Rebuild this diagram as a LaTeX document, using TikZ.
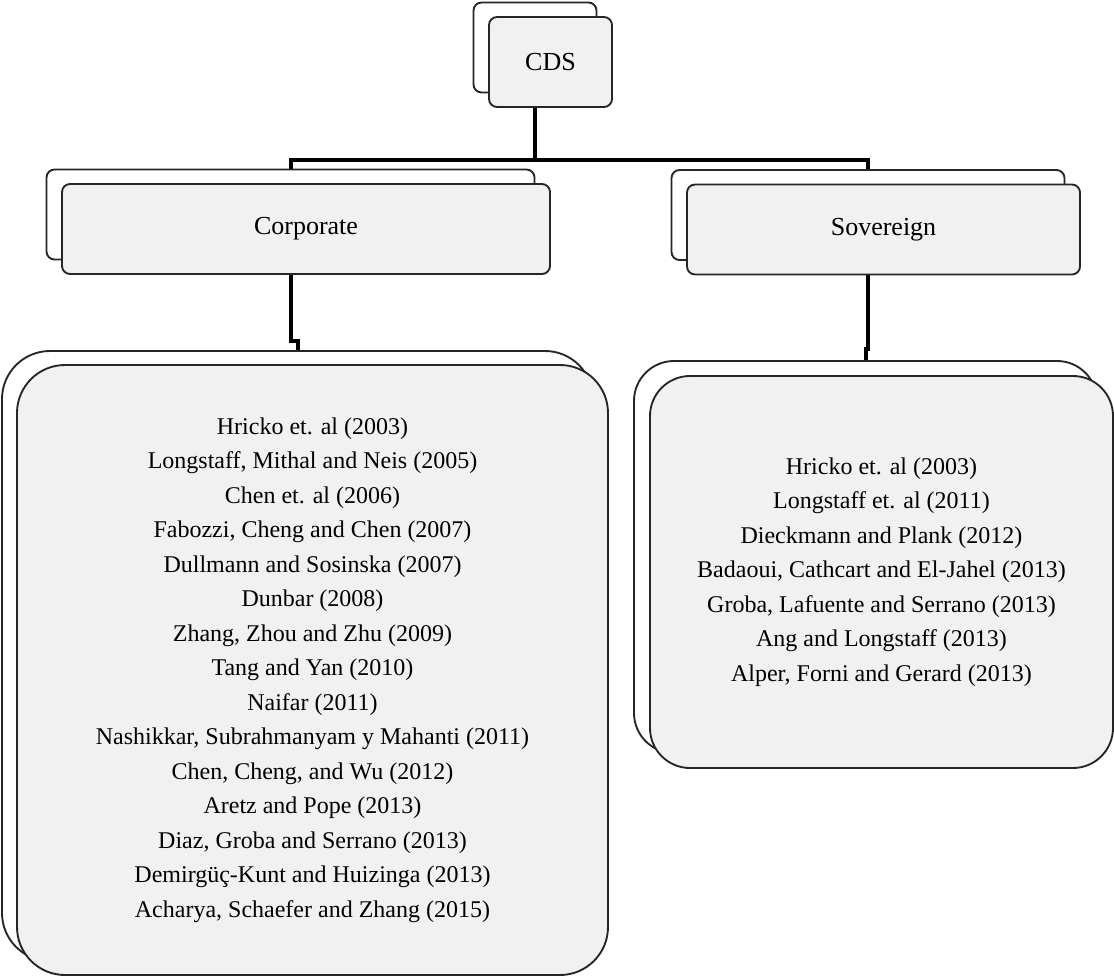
\documentclass[tikz,border=0pt]{standalone}
\usepackage{fontspec}
\setmainfont{Liberation Serif}
\usetikzlibrary{backgrounds}

\tikzset{every picture/.style={line width=0.75pt}}
\definecolor{boxfill}{RGB}{241,241,241}
\definecolor{boxline}{RGB}{38,38,38}
\tikzset{
  backbox/.style={draw=boxline, line width=1.4pt, fill=white, inner sep=0pt, rounded corners=6pt},
  frontbox/.style={draw=boxline, line width=1.4pt, fill=boxfill, inner sep=0pt, rounded corners=6pt,
    align=center, font=\fontsize{19.5pt}{23pt}\selectfont},
  listbox/.style={frontbox, font=\fontsize{18pt}{25.9pt}\selectfont},
  conn/.style={line width=3pt, black},
}

\begin{document}
\begin{tikzpicture}[x=0.75pt,y=0.75pt,yscale=-1,xscale=1]
\useasboundingbox (0,0) rectangle (1114,978);

%Top: CDS
\node [backbox, minimum width=92.25pt, minimum height=67.5pt] (cdsback) at (535,47.5) {};
\node [frontbox, minimum width=92.25pt, minimum height=67.5pt] (cds) at (550.5,62) {CDS};

%Second level
\node [backbox, minimum width=366pt, minimum height=67.5pt] (corpback) at (290.5,214.5) {};
\node [frontbox, minimum width=366pt, minimum height=67.5pt] (corp) at (306,229) {Corporate};
\node [backbox, minimum width=294.75pt, minimum height=67.5pt] (sovback) at (868,215) {};
\node [frontbox, minimum width=294.75pt, minimum height=67.5pt] (sov) at (883.5,229.5) {Sovereign};

%Lists
\node [backbox, rounded corners=36pt, minimum width=443.25pt, minimum height=457.5pt] (corplistback) at (297.5,656) {};
\node [listbox, rounded corners=36pt, minimum width=443.25pt, minimum height=457.5pt] (corplist) at (312.5,670) {%
Hricko et. al (2003)\\
Longstaff, Mithal and Neis (2005)\\
Chen et. al (2006)\\
Fabozzi, Cheng and Chen (2007)\\
Dullmann and Sosinska (2007)\\
Dunbar (2008)\\
Zhang, Zhou and Zhu (2009)\\
Tang and Yan (2010)\\
Naifar (2011)\\
Nashikkar, Subrahmanyam y Mahanti (2011)\\
Chen, Cheng, and Wu (2012)\\
Aretz and Pope (2013)\\
Diaz, Groba and Serrano (2013)\\
Demirgüç-Kunt and Huizinga (2013)\\
Acharya, Schaefer and Zhang (2015)};
\node [backbox, rounded corners=30pt, minimum width=347.25pt, minimum height=294pt] (sovlistback) at (865.5,557) {};
\node [listbox, rounded corners=30pt, minimum width=347.25pt, minimum height=294pt] (sovlist) at (881.5,572) {%
Hricko et. al (2003)\\
Longstaff et. al (2011)\\
Dieckmann and Plank (2012)\\
Badaoui, Cathcart and El-Jahel (2013)\\
Groba, Lafuente and Serrano (2013)\\
Ang and Longstaff (2013)\\
Alper, Forni and Gerard (2013)};

%Connectors
\coordinate (bar) at (0,160);
\begin{scope}[on background layer]
\draw [conn] (cdsback.south) -- (cdsback.south |- bar);
\draw [conn] (corpback.north) -- (corpback.north |- bar) -- (sovback.north |- bar) -- (sovback.north);
\draw [conn] (corpback.south) -- ++(0,81) -| (corplistback.north);
\draw [conn] (sovback.south) -- ++(0,88) -| (sovlistback.north);
\end{scope}

\end{tikzpicture}
\end{document}
